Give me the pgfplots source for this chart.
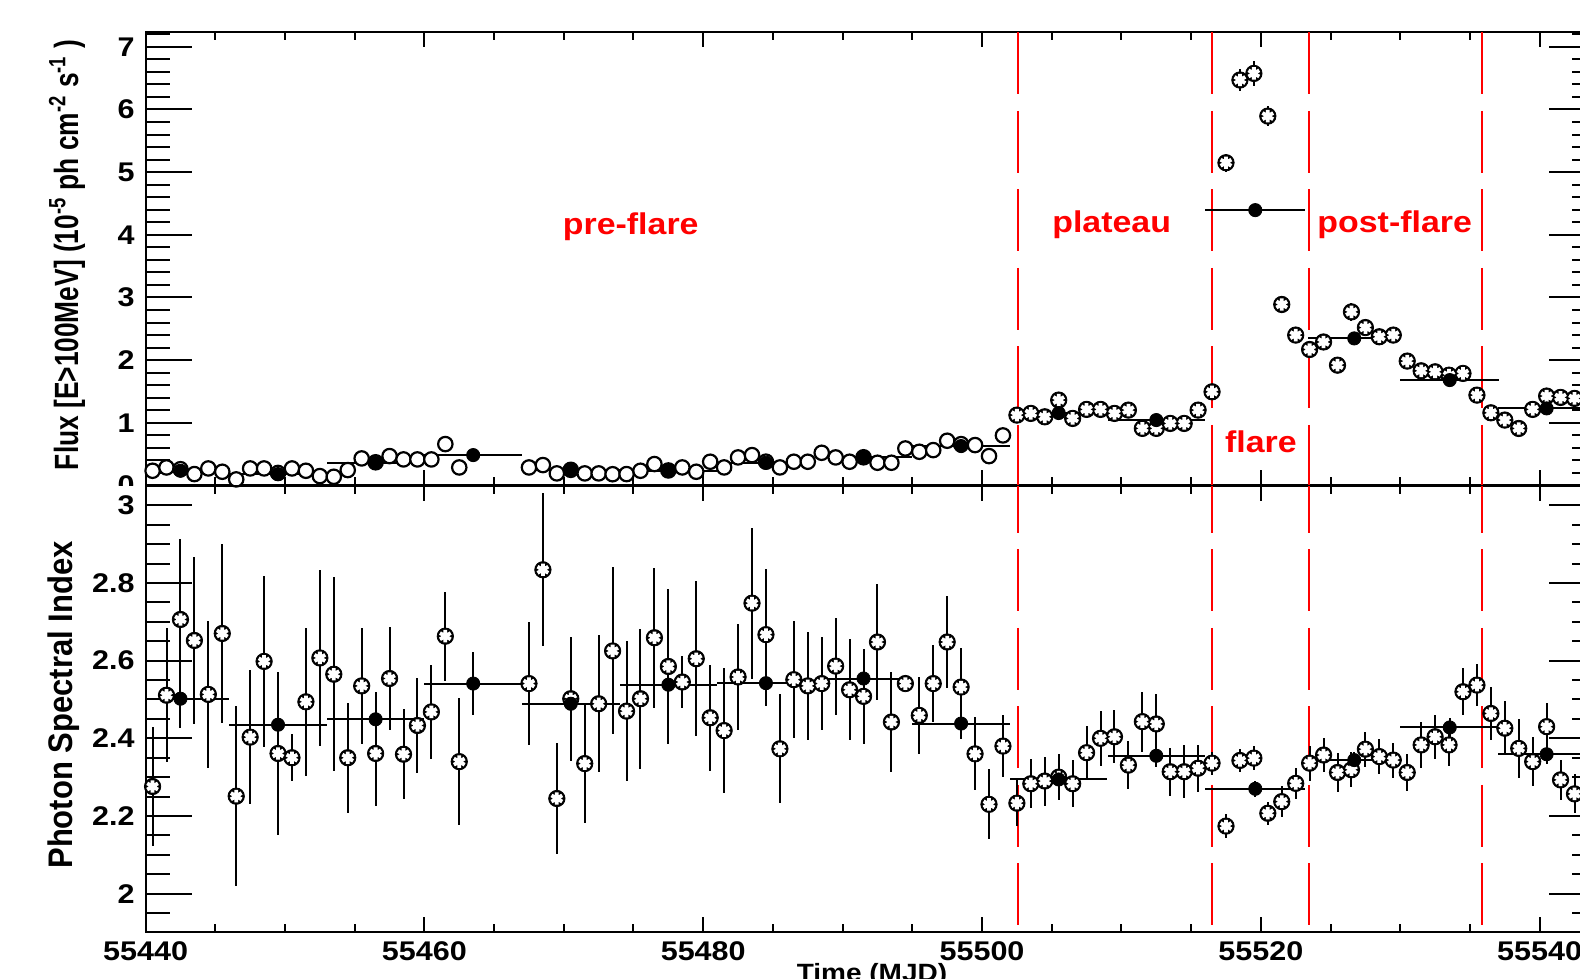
\documentclass[border=0pt]{standalone}
\usepackage{fontspec}
\setmainfont{Liberation Sans}
\usepackage{graphicx}
\usepackage{pgfplots}
\pgfplotsset{compat=1.18}
\usepackage{pgfplotstable}

\newcommand{\hs}[1]{\scalebox{1.13}[1]{#1}}

% ---------------- top panel: daily flux, pre-flare (plain circles)
\pgfplotstableread{
t v e
55440.5 0.235 0.05
55441.5 0.288 0.05
55442.5 0.26 0.05
55443.5 0.182 0.05
55444.5 0.272 0.05
55445.5 0.219 0.05
55446.5 0.097 0.05
55447.5 0.272 0.05
55448.5 0.272 0.05
55449.5 0.20 0.05
55450.5 0.272 0.05
55451.5 0.235 0.05
55452.5 0.15 0.05
55453.5 0.139 0.05
55454.5 0.246 0.05
55455.5 0.432 0.05
55456.5 0.37 0.05
55457.5 0.469 0.05
55458.5 0.416 0.05
55459.5 0.416 0.05
55460.5 0.416 0.05
55461.5 0.661 0.06
55462.5 0.288 0.05
55467.5 0.288 0.05
55468.5 0.326 0.05
55469.5 0.193 0.05
55470.5 0.25 0.05
55471.5 0.193 0.05
55472.5 0.193 0.05
55473.5 0.18 0.05
55474.5 0.182 0.05
55475.5 0.235 0.05
55476.5 0.342 0.05
55477.5 0.24 0.05
55478.5 0.288 0.05
55479.5 0.219 0.05
55480.5 0.379 0.05
55481.5 0.288 0.05
55482.5 0.448 0.05
55483.5 0.485 0.05
55484.5 0.38 0.05
55485.5 0.288 0.05
55486.5 0.379 0.05
55487.5 0.379 0.05
55488.5 0.522 0.05
55489.5 0.448 0.05
55490.5 0.379 0.05
55491.5 0.45 0.05
55492.5 0.363 0.05
55493.5 0.363 0.05
55494.5 0.591 0.05
55495.5 0.538 0.05
55496.5 0.565 0.05
55497.5 0.714 0.06
55498.5 0.66 0.06
55499.5 0.645 0.06
55500.5 0.469 0.06
55501.5 0.799 0.06
}\fluxpre

% ---------------- top panel: daily flux from the plateau on
\pgfplotstableread{
t v e
55502.5 1.123 0.07
55503.5 1.15 0.07
55504.5 1.096 0.07
55505.5 1.363 0.08
55506.5 1.07 0.07
55507.5 1.214 0.07
55508.5 1.214 0.07
55509.5 1.15 0.07
55510.5 1.203 0.07
55511.5 0.911 0.07
55512.5 0.911 0.07
55513.5 0.99 0.07
55514.5 0.99 0.07
55515.5 1.203 0.08
55516.5 1.495 0.1
55517.5 5.15 0.14
55518.5 6.47 0.18
55519.5 6.575 0.2
55520.5 5.894 0.16
55521.5 2.888 0.1
55522.5 2.40 0.1
55523.5 2.17 0.1
55524.5 2.29 0.1
55525.5 1.92 0.1
55526.5 2.77 0.14
55527.5 2.52 0.1
55528.5 2.373 0.1
55529.5 2.40 0.1
55530.5 1.985 0.1
55531.5 1.83 0.1
55532.5 1.814 0.1
55533.5 1.76 0.1
55534.5 1.788 0.1
55535.5 1.442 0.1
55536.5 1.16 0.08
55537.5 1.044 0.08
55538.5 0.91 0.08
55539.5 1.214 0.08
55540.5 1.427 0.08
55541.5 1.405 0.08
55542.5 1.389 0.08
}\fluxpost

% ---------------- top panel: binned flux
\pgfplotstableread{
t v ex ey
55442.5 0.235 3.5 0.02
55449.5 0.182 3.5 0.02
55456.5 0.363 3.5 0.02
55463.5 0.485 3.5 0.03
55470.5 0.246 3.5 0.02
55477.5 0.235 3.5 0.02
55484.5 0.363 3.5 0.02
55491.5 0.448 3.5 0.03
55498.5 0.629 3.5 0.03
55505.5 1.156 3.5 0.03
55512.5 1.044 3.5 0.03
55519.6 4.394 3.6 0.05
55526.7 2.347 3.3 0.04
55533.55 1.682 3.55 0.03
55540.5 1.23 3.5 0.03
}\fluxbin

% ---------------- bottom panel: daily photon index
\pgfplotstableread{
t v e
55440.5 2.276 0.152
55441.5 2.511 0.172
55442.5 2.706 0.208
55443.5 2.652 0.215
55444.5 2.513 0.19
55445.5 2.670 0.23
55446.5 2.251 0.232
55447.5 2.403 0.172
55448.5 2.598 0.22
55449.5 2.361 0.21
55450.5 2.35 0.06
55451.5 2.494 0.19
55452.5 2.607 0.227
55453.5 2.565 0.25
55454.5 2.35 0.142
55455.5 2.535 0.15
55456.5 2.361 0.135
55457.5 2.554 0.133
55458.5 2.359 0.116
55459.5 2.433 0.122
55460.5 2.468 0.12
55461.5 2.663 0.115
55462.5 2.34 0.164
55467.5 2.541 0.158
55468.5 2.834 0.197
55469.5 2.245 0.142
55470.5 2.502 0.16
55471.5 2.335 0.152
55472.5 2.489 0.177
55473.5 2.625 0.215
55474.5 2.47 0.18
55475.5 2.502 0.18
55476.5 2.659 0.18
55477.5 2.585 0.2
55478.5 2.545 0.066
55479.5 2.605 0.2
55480.5 2.453 0.136
55481.5 2.42 0.16
55482.5 2.558 0.136
55483.5 2.748 0.194
55484.5 2.667 0.17
55485.5 2.373 0.14
55486.5 2.551 0.15
55487.5 2.535 0.14
55488.5 2.541 0.12
55489.5 2.586 0.125
55490.5 2.525 0.13
55491.5 2.508 0.123
55492.5 2.648 0.15
55493.5 2.442 0.13
55494.5 2.541 0.0
55495.5 2.459 0.1
55496.5 2.541 0.1
55497.5 2.648 0.118
55498.5 2.532 0.1
55499.5 2.36 0.094
55500.5 2.23 0.09
55501.5 2.38 0.08
55502.5 2.233 0.06
55503.5 2.283 0.063
55504.5 2.29 0.063
55505.5 2.30 0.06
55506.5 2.283 0.06
55507.5 2.363 0.068
55508.5 2.400 0.07
55509.5 2.404 0.068
55510.5 2.331 0.062
55511.5 2.443 0.077
55512.5 2.437 0.076
55513.5 2.314 0.062
55514.5 2.314 0.068
55515.5 2.323 0.06
55516.5 2.336 0.03
55517.5 2.174 0.03
55518.5 2.343 0.03
55519.5 2.349 0.03
55520.5 2.207 0.03
55521.5 2.237 0.04
55522.5 2.284 0.04
55523.5 2.336 0.045
55524.5 2.357 0.045
55525.5 2.312 0.05
55526.5 2.319 0.045
55527.5 2.372 0.045
55528.5 2.353 0.045
55529.5 2.344 0.045
55530.5 2.312 0.047
55531.5 2.383 0.06
55532.5 2.404 0.056
55533.5 2.383 0.054
55534.5 2.520 0.06
55535.5 2.537 0.055
55536.5 2.464 0.068
55537.5 2.426 0.07
55538.5 2.374 0.077
55539.5 2.34 0.063
55540.5 2.430 0.061
55541.5 2.293 0.052
55542.5 2.257 0.05
}\indexday

% ---------------- bottom panel: binned photon index
\pgfplotstableread{
t v ex ey
55442.5 2.502 3.5 0.075
55449.5 2.435 3.5 0.075
55456.5 2.449 3.5 0.07
55463.5 2.541 3.5 0.08
55470.5 2.489 3.5 0.07
55477.5 2.538 3.5 0.07
55484.5 2.542 3.5 0.06
55491.5 2.554 3.5 0.05
55498.5 2.438 3.5 0.04
55505.5 2.294 3.5 0.025
55512.5 2.355 3.5 0.03
55519.6 2.270 3.6 0.02
55526.7 2.344 3.3 0.02
55533.55 2.428 3.55 0.025
55540.5 2.359 3.5 0.025
}\indexbin

\pgfplotsset{
  panel/.style={
    scale only axis, width=724.9pt,
    xmin=55440, xmax=55544,
    scaled x ticks=false, scaled y ticks=false,
    axis line style={line width=1pt, black},
    tick align=inside, xtick pos=both, ytick pos=both,
    xticklabel pos=left, yticklabel pos=left,
    xtick={55440,55460,55480,55500,55520,55540},
    minor xtick={55440,55445,...,55540},
    tick style={line width=1pt, black},
    major tick length=7.5pt, minor tick length=4pt,
    xtick style={/pgfplots/major tick length=7.5pt,/pgfplots/minor tick length=4pt},
    ytick style={/pgfplots/major tick length=23.5pt,/pgfplots/minor tick length=12pt},
    tick label style={font=\fontsize{13.5pt}{16pt}\selectfont\bfseries},
    xticklabel style={anchor=north, inner sep=0pt, yshift=-4.6pt},
    yticklabel style={anchor=east, inner sep=0pt, xshift=-5.3pt},
    error bars/error bar style={line width=1pt, black},
    error bars/error mark=none,
  },
  plain/.style={only marks, mark=*, mark size=3.6pt,
    mark options={fill=white, draw=black, line width=1.1pt}},
  starbg/.style={only marks, mark=*, mark size=4.1pt,
    mark options={fill=black, draw=black, line width=0.4pt}},
  starfg/.style={only marks, mark=asterisk, mark size=3.1pt,
    mark options={white, line width=1.9pt}},
  binned/.style={only marks, mark=*, mark size=3.3pt,
    mark options={fill=black, draw=black}},
  phase/.style={red, line width=1.1pt, mark=none, forget plot},
}

\begin{document}
\begin{tikzpicture}
\useasboundingbox (0,0) rectangle (790pt,489.5pt);

% ================= TOP PANEL =================
\begin{axis}[panel,
  at={(72.8pt,246.75pt)}, anchor=south west,
  height=226.55pt, ymin=0, ymax=7.23,
  ytick={0,1,2,3,4,5,6,7},
  yticklabels={\hs{0},\hs{1},\hs{2},\hs{3},\hs{4},\hs{5},\hs{6},\hs{7}},
  minor ytick={0,0.2,...,7.21},
  xticklabels={},
]
\addplot[phase, dash pattern=on 31pt off 8.25pt] coordinates {(55502.6,7.23) (55502.6,0)};
\addplot[phase, dash pattern=on 31pt off 8.25pt] coordinates {(55516.5,7.23) (55516.5,0)};
\addplot[phase, dash pattern=on 31pt off 8.25pt] coordinates {(55523.45,7.23) (55523.45,0)};
\addplot[phase, dash pattern=on 31pt off 8.25pt] coordinates {(55535.85,7.23) (55535.85,0)};

\addplot[plain, error bars/.cd, y dir=both, y explicit]
  table[x=t, y=v, y error=e]{\fluxpre};
\addplot[starbg, error bars/.cd, y dir=both, y explicit]
  table[x=t, y=v, y error=e]{\fluxpost};
\addplot[starfg] table[x=t, y=v]{\fluxpost};
\addplot[binned, error bars/.cd, x dir=both, x explicit, y dir=both, y explicit]
  table[x=t, y=v, x error=ex, y error=ey]{\fluxbin};

\node[anchor=base, text=red, inner sep=0pt, font=\fontsize{15pt}{18pt}\selectfont\bfseries]
  at (axis cs:55474.8,4.0) {\hs{pre-flare}};
\node[anchor=base, text=red, inner sep=0pt, font=\fontsize{15pt}{18pt}\selectfont\bfseries]
  at (axis cs:55509.3,4.03) {\hs{plateau}};
\node[anchor=base, text=red, inner sep=0pt, font=\fontsize{15pt}{18pt}\selectfont\bfseries]
  at (axis cs:55529.6,4.03) {\hs{post-flare}};
\node[anchor=base, text=red, inner sep=0pt, font=\fontsize{15pt}{18pt}\selectfont\bfseries]
  at (axis cs:55520.0,0.52) {\hs{flare}};
\end{axis}

% the lower half of the top panel's "0" is hidden by the lower panel
\fill[white] (40pt,246.3pt) rectangle (72.3pt,238.3pt);

% ================= BOTTOM PANEL =================
\begin{axis}[panel,
  at={(72.8pt,23.25pt)}, anchor=south west,
  height=223.3pt, ymin=1.9, ymax=3.05,
  ytick={2,2.2,2.4,2.6,2.8,3},
  yticklabels={\hs{2},\hs{2.2},\hs{2.4},\hs{2.6},\hs{2.8},\hs{3}},
  minor ytick={1.9,1.95,...,3.051},
  xticklabels={\hs{55440},\hs{55460},\hs{55480},\hs{55500},\hs{55520},\hs{55540}},
]
\addplot[phase, dash pattern=on 31pt off 8.25pt, dash phase=7.5pt] coordinates {(55502.6,3.05) (55502.6,1.9)};
\addplot[phase, dash pattern=on 31pt off 8.25pt, dash phase=7.5pt] coordinates {(55516.5,3.05) (55516.5,1.9)};
\addplot[phase, dash pattern=on 31pt off 8.25pt, dash phase=7.5pt] coordinates {(55523.45,3.05) (55523.45,1.9)};
\addplot[phase, dash pattern=on 31pt off 8.25pt, dash phase=7.5pt] coordinates {(55535.85,3.05) (55535.85,1.9)};

\addplot[starbg, error bars/.cd, y dir=both, y explicit]
  table[x=t, y=v, y error=e]{\indexday};
\addplot[starfg] table[x=t, y=v]{\indexday};
\addplot[binned, error bars/.cd, x dir=both, x explicit, y dir=both, y explicit]
  table[x=t, y=v, x error=ex, y error=ey]{\indexbin};
\end{axis}

% axis titles
\node[rotate=90, anchor=base, inner sep=0pt] at (39pt,362pt)
  {\scalebox{0.94}[1.2]{\fontsize{14pt}{17pt}\selectfont\bfseries Flux [E>100MeV] (10\textsuperscript{-5} ph cm\textsuperscript{-2} s\textsuperscript{-1} )}};
\node[rotate=90, anchor=base, inner sep=0pt] at (36pt,137pt)
  {\scalebox{1}[1.1]{\fontsize{15.5pt}{18pt}\selectfont\bfseries Photon Spectral Index}};
\node[anchor=north, inner sep=0pt] at (436pt,8pt)
  {\fontsize{12.5pt}{15pt}\selectfont\bfseries\scalebox{1.12}[1]{Time (MJD)}};
\end{tikzpicture}
\end{document}
